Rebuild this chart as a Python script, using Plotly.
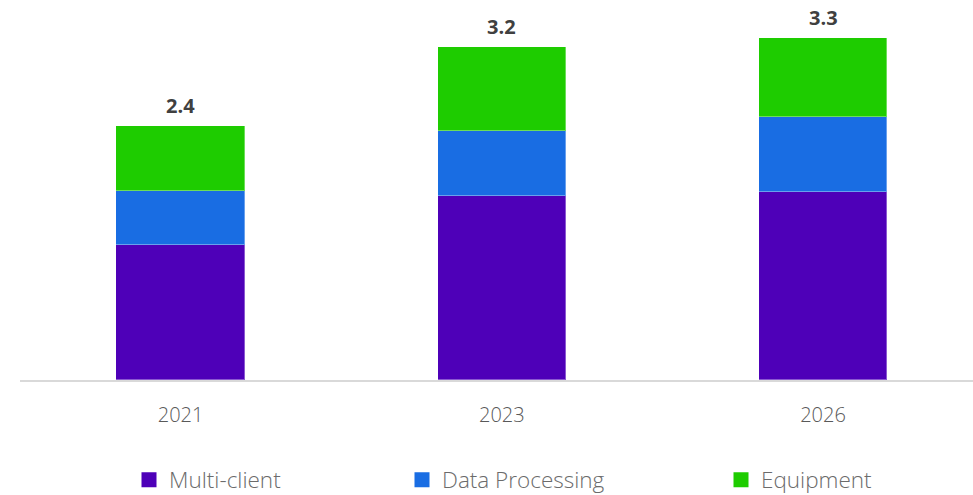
import plotly.graph_objects as go

# Revenue split by business segment (USD bn)
years = ["2021", "2023", "2026"]
multi_client = [1.29, 1.76, 1.80]
data_processing = [0.52, 0.62, 0.71]
equipment = [0.62, 0.80, 0.76]

series = [
    ("Multi-client", multi_client, "#4e00b8"),
    ("Data Processing", data_processing, "#196de3"),
    ("Equipment", equipment, "#1ecc00"),
]

totals = [sum(v) for v in zip(multi_client, data_processing, equipment)]

FONT = "Open Sans, Segoe UI, sans-serif"

fig = go.Figure()
for name, vals, color in series:
    fig.add_trace(go.Bar(
        x=years, y=vals, name=name, showlegend=False,
        marker=dict(color=color, line=dict(color="rgba(255,255,255,0.35)", width=1)),
        width=0.4,
    ))

# legend keys drawn as square markers, one legend box per series
legend_names = ["legend", "legend2", "legend3"]
for (name, vals, color), lg in zip(series, legend_names):
    fig.add_trace(go.Scatter(
        x=[None], y=[None], mode="markers", name=name, legend=lg,
        marker=dict(symbol="square", size=15, color=color),
    ))

for i, tot in enumerate(totals):
    fig.add_annotation(
        x=i, y=tot, text=f"<b>{tot:.1f}</b>", showarrow=False,
        yanchor="bottom", yshift=5,
        font=dict(family=FONT, size=20, color="#404040"),
    )

plot_left, plot_right = 20, 973
def px_to_paper(px):
    return (px - plot_left) / (plot_right - plot_left)

legend_style = dict(
    orientation="h", yref="container", yanchor="middle", y=15 / 495,
    xanchor="left",
    font=dict(family=FONT, size=22.5, color="#6b6b6b", weight=300),
    bgcolor="rgba(0,0,0,0)", itemsizing="trace",
)

fig.update_layout(
    width=973, height=495,
    margin=dict(l=plot_left, r=0, t=0, b=115, autoexpand=False),
    plot_bgcolor="white", paper_bgcolor="white",
    barmode="stack",
    bargap=0,
    showlegend=True,
    legend=dict(x=px_to_paper(129), **legend_style),
    legend2=dict(x=px_to_paper(402), **legend_style),
    legend3=dict(x=px_to_paper(721), **legend_style),
    xaxis=dict(
        type="category", range=[-0.5, 2.467],
        showline=True, linecolor="#d9d9d9", linewidth=2,
        showgrid=False, ticks="", ticklen=0, ticklabelstandoff=16,
        tickfont=dict(family=FONT, size=20, color="#595959", weight=300),
    ),
    yaxis=dict(
        range=[0, 3.63], visible=False, showgrid=False, zeroline=False,
    ),
)

fig.write_html("out.html")
